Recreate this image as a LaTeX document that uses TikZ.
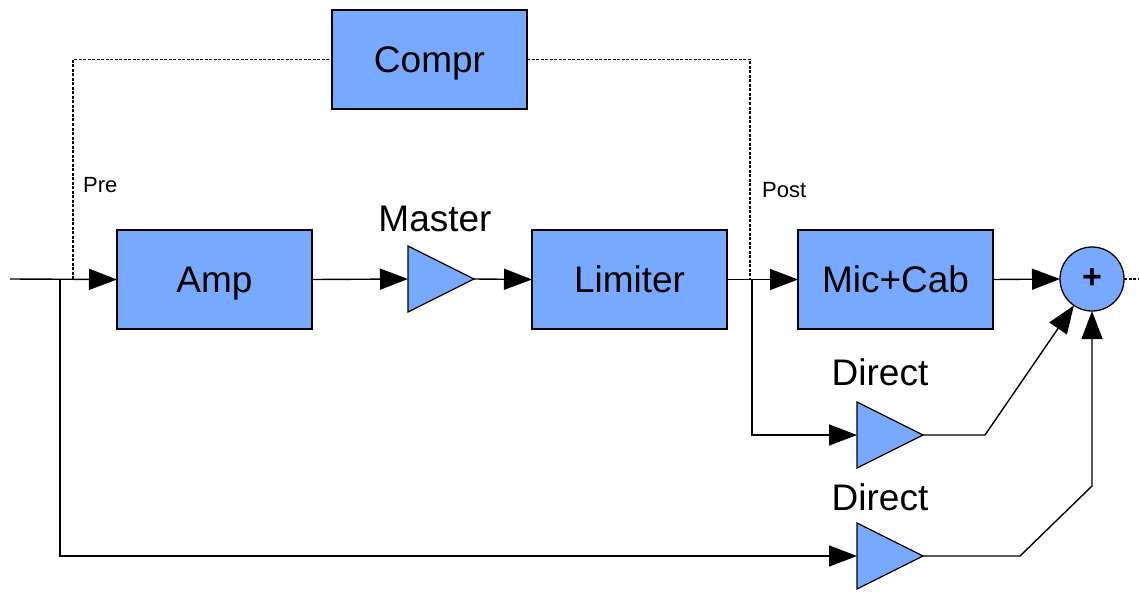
\documentclass[tikz,border=0pt]{standalone}
\usepackage{fontspec}
\setmainfont{Liberation Sans}
\usetikzlibrary{arrows.meta,shapes.geometric}
\definecolor{boxblue}{RGB}{119,170,255}
\begin{document}
\begin{tikzpicture}[x=1pt,y=-1pt,
  blk/.style={draw=black,line width=1.5pt,fill=boxblue,minimum width=195pt,minimum height=99pt,inner sep=0pt,outer sep=0pt,text depth=0pt,font=\fontsize{37}{42}\selectfont},
  gain/.style={draw=black,line width=1.2pt,fill=boxblue,isosceles triangle,isosceles triangle stretches,shape border rotate=0,minimum width=66pt,minimum height=66pt,inner sep=0pt,outer sep=0pt,anchor=west},
  sig/.style={line width=1.4pt},
  arr/.style={sig,-{Triangle[length=28pt,width=21pt]}},
  ctl/.style={line width=1.3pt,dash pattern=on 3pt off 1.5pt},
  lbl/.style={font=\fontsize{37}{42}\selectfont,inner sep=0pt},
  small/.style={font=\fontsize{22}{26}\selectfont,inner sep=0pt,anchor=west}]
\useasboundingbox (0,0) rectangle (1139,591);

% blocks
\node[blk] (compr) at (429.5,59.5) {Compr};
\node[blk] (amp) at (214.5,279.5) {Amp};
\node[blk] (lim) at (629.5,279.5) {Limiter};
\node[blk] (mic) at (895.5,279.5) {Mic+Cab};
\node[gain] (master) at (408,279) {};
\node[gain] (d1) at (857,435) {};
\node[gain] (d2) at (857,556) {};
\node[circle,draw=black,line width=1.3pt,fill=boxblue,minimum size=64pt,inner sep=0pt,outer sep=0pt,font=\fontsize{34}{36}\selectfont\bfseries] (sum) at (1092,279) {+};

% labels
\node[lbl] (lmaster) at (435,219) {Master};
\node[lbl] (ld1) at (880,372) {Direct};
\node[lbl] (ld2) at (880,497) {Direct};
\node[small] (lpre) at (83,185) {Pre};
\node[small] (lpost) at (762,190) {Post};

% coordinates
\coordinate (in) at (10,279);
\coordinate (j1) at (60,279);
\coordinate (pre) at (73,279);
\coordinate (post) at (750,279);
\coordinate (j2) at (752,279);
\coordinate (out) at (1139,279);
\coordinate (b1) at (985,435);
\coordinate (b2) at (1020,556);
\coordinate (b3) at (1092,486);

% signal path
\draw[arr] (in) -- (amp.west);
\draw[arr] (amp.east) -- (master.west);
\draw[arr] (master.east) -- (lim.west);
\draw[arr] (lim.east) -- (mic.west);
\draw[arr] (mic.east) -- (sum.west);
\draw[arr] (j2) |- (d1.west);
\draw[arr] (j1) |- (d2.west);
\draw[arr] (d1.east) -- (b1) -- (sum);
\draw[arr] (d2.east) -- (b2) -- (b3) -- (sum.south);
\draw[ctl] (sum.east) -- (out);

% sidechain
\draw[ctl] (pre) |- (compr.west);
\draw[ctl] (compr.east) -| (post);
\end{tikzpicture}
\end{document}
